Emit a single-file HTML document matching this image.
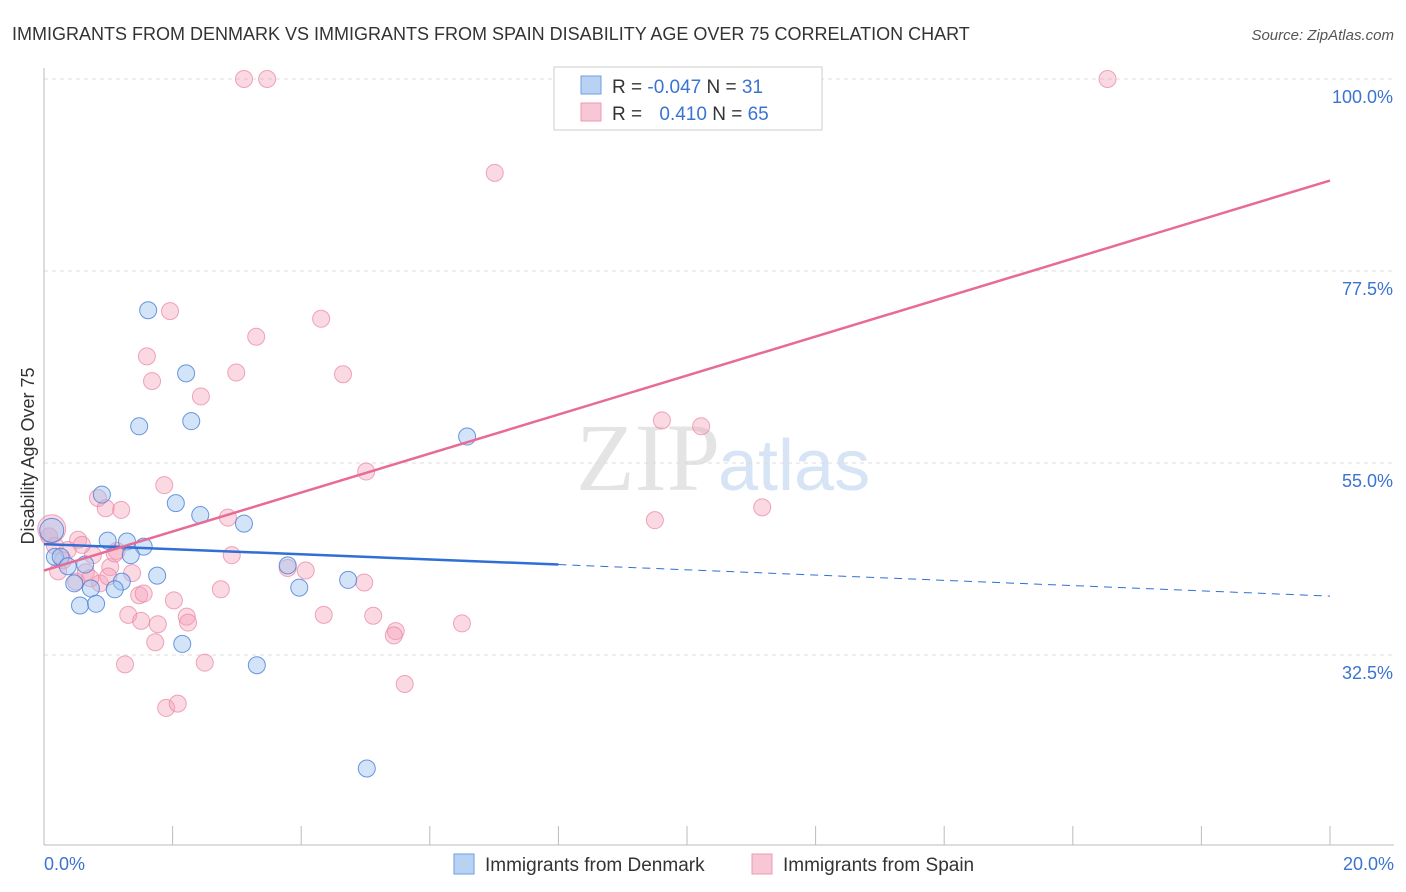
<!DOCTYPE html>
<html><head><meta charset="utf-8"><style>
body{margin:0;background:#fff;font-family:"Liberation Sans",sans-serif;}
svg{display:block}
</style></head><body>
<svg width="1406" height="892" id="c">
<text x="12" y="40" font-size="18" fill="#333">IMMIGRANTS FROM DENMARK VS IMMIGRANTS FROM SPAIN DISABILITY AGE OVER 75 CORRELATION CHART</text>
<text x="1394" y="40" font-size="15" fill="#555" text-anchor="end" font-style="italic">Source: ZipAtlas.com</text>
<text x="720" y="490" font-size="96" fill="#e4e4e4" text-anchor="end" font-family="Liberation Serif">ZIP</text>
<text x="718" y="490" font-size="72" fill="#d6e4f5">atlas</text>
<g id="grid"></g>
<line x1="44" y1="68" x2="44" y2="845" stroke="#bbb"/>
<line x1="44" y1="845" x2="1394" y2="845" stroke="#bbb"/>
<text x="34" y="456" font-size="18" fill="#333" text-anchor="middle" transform="rotate(-90 34 456)">Disability Age Over 75</text>
<text x="44" y="870" font-size="18" fill="#3b73d1">0.0%</text>
<text x="1394" y="870" font-size="18" fill="#3b73d1" text-anchor="end">20.0%</text>
<g id="pts"></g>
<g id="lines"></g>
<g>
<rect x="554" y="67" width="268" height="63" fill="#fff" stroke="#ccc"/>
<rect x="581" y="76" width="20" height="18" fill="#b9d1f3" stroke="#6f9ee3"/>
<rect x="581" y="103" width="20" height="18" fill="#f8c7d6" stroke="#ec9ab3"/>
<text x="612" y="93" font-size="19" fill="#333">R = <tspan fill="#3b73d1">-0.047</tspan>   N = <tspan fill="#3b73d1">31</tspan></text>
<text x="612" y="120" font-size="19" fill="#333">R = <tspan fill="#3b73d1" dx="12">0.410</tspan>   N = <tspan fill="#3b73d1">65</tspan></text>
</g>
<g>
<rect x="454" y="854" width="20" height="20" fill="#b9d1f3" stroke="#6f9ee3"/>
<text x="485" y="871" font-size="19" fill="#333">Immigrants from Denmark</text>
<rect x="752" y="854" width="20" height="20" fill="#f8c7d6" stroke="#ec9ab3"/>
<text x="783" y="871" font-size="19" fill="#333">Immigrants from Spain</text>
</g>
</svg>
<script>
const yTicks=[100,77.5,55,32.5];
const xTickCount=10;
const denmarkX=[1.62,2.21,1.48,2.29,6.58,0.9,2.05,2.43,3.11,0.12,0.99,1.29,1.55,1.35,0.17,0.26,0.37,0.64,1.76,1.21,0.47,0.73,1.1,0.56,0.81,2.15,3.79,3.97,4.73,3.31,5.02];
const denmarkY=[72.9,65.5,59.3,59.9,58.1,51.3,50.3,48.9,47.9,47.1,45.9,45.8,45.2,44.2,44.0,44.0,42.9,43.1,41.8,41.1,40.9,40.3,40.2,38.3,38.5,33.8,43.0,40.4,41.3,31.3,19.2];
const spainX=[3.11,3.47,16.54,7.01,1.96,4.31,3.3,1.6,2.99,4.65,1.68,2.44,9.61,10.22,5.01,1.87,0.84,0.96,1.2,2.86,9.5,11.17,0.08,0.53,0.17,0.37,0.76,1.13,2.92,0.12,0.295,1.03,0.65,1.37,0.5,0.87,0.22,3.79,4.07,4.98,2.75,0.72,2.02,1.48,1.55,1.31,1.51,1.77,2.22,2.24,4.35,5.12,5.47,5.44,6.5,1.73,1.26,2.5,5.61,1.9,2.08,0.59,1.0,1.1];
const spainY=[100,100,100,89,72.8,71.9,69.8,67.5,65.6,65.4,64.6,62.8,60.0,59.3,54.0,52.4,50.9,49.7,49.5,48.6,48.3,49.8,46.4,46.0,45.3,44.8,44.2,44.7,44.2,47.3,43.6,42.8,42.2,42.1,41.1,40.9,42.3,42.7,42.4,41.0,40.2,41.5,38.9,39.5,39.7,37.2,36.5,36.1,37.0,36.3,37.2,37.1,35.3,34.8,36.2,34.0,31.4,31.6,29.1,26.3,26.8,45.4,41.7,44.4];
const denmarkFit=[45.5,43.1,39.4];
const spainFit=[42.4,88.1];
const NS='http://www.w3.org/2000/svg';
const X=v=>44+v/20*1286, Y=v=>79+(100-v)*192/22.5;
function mk(t,a,p){const e=document.createElementNS(NS,t);for(const k in a)e.setAttribute(k,a[k]);p.appendChild(e);return e;}
const grid=document.getElementById('grid');
yTicks.forEach(t=>{
 const l=mk('line',{x1:44,x2:1394,y1:Y(t),y2:Y(t),stroke:'#ddd','stroke-dasharray':'4,4'},grid);
 
 
 const tx=mk('text',{x:1393,y:Y(t)+24,'font-size':18,fill:'#3b73d1','text-anchor':'end'},grid);
 tx.textContent=(t.toFixed(1))+'%';
 
 
});
for(let i=1;i<=xTickCount;i++){
 const x=X(i*20/xTickCount);
 const l=mk('line',{x1:x,x2:x,y1:826,y2:845,stroke:'#bbb'},grid);
 
 
}
const pts=document.getElementById('pts');
spainX.forEach((v,i)=>{
 const c=mk('circle',{cx:X(v),cy:Y(spainY[i]),r:i==29?14:8.5,fill:'rgba(244,160,185,0.4)',stroke:'rgba(232,130,160,0.7)','stroke-width':1},pts);
 
 
});
denmarkX.forEach((v,i)=>{
 const c=mk('circle',{cx:X(v),cy:Y(denmarkY[i]),r:i==9?12:8.5,fill:'rgba(160,195,240,0.45)',stroke:'rgba(70,125,215,0.8)','stroke-width':1},pts);
 
 
});
const lines=document.getElementById('lines');
let l=mk('line',{x1:X(0),y1:Y(denmarkFit[0]),x2:X(8),y2:Y(denmarkFit[1]),stroke:'#2f6fd6','stroke-width':2.5},lines);


l=mk('line',{x1:X(8),y1:Y(denmarkFit[1]),x2:X(20),y2:Y(denmarkFit[2]),stroke:'#2f6fd6','stroke-width':1,'stroke-dasharray':'8,6'},lines);


l=mk('line',{x1:X(0),y1:Y(spainFit[0]),x2:X(20),y2:Y(spainFit[1]),stroke:'#e86b97','stroke-width':2.5},lines);


</script>
</body></html>
